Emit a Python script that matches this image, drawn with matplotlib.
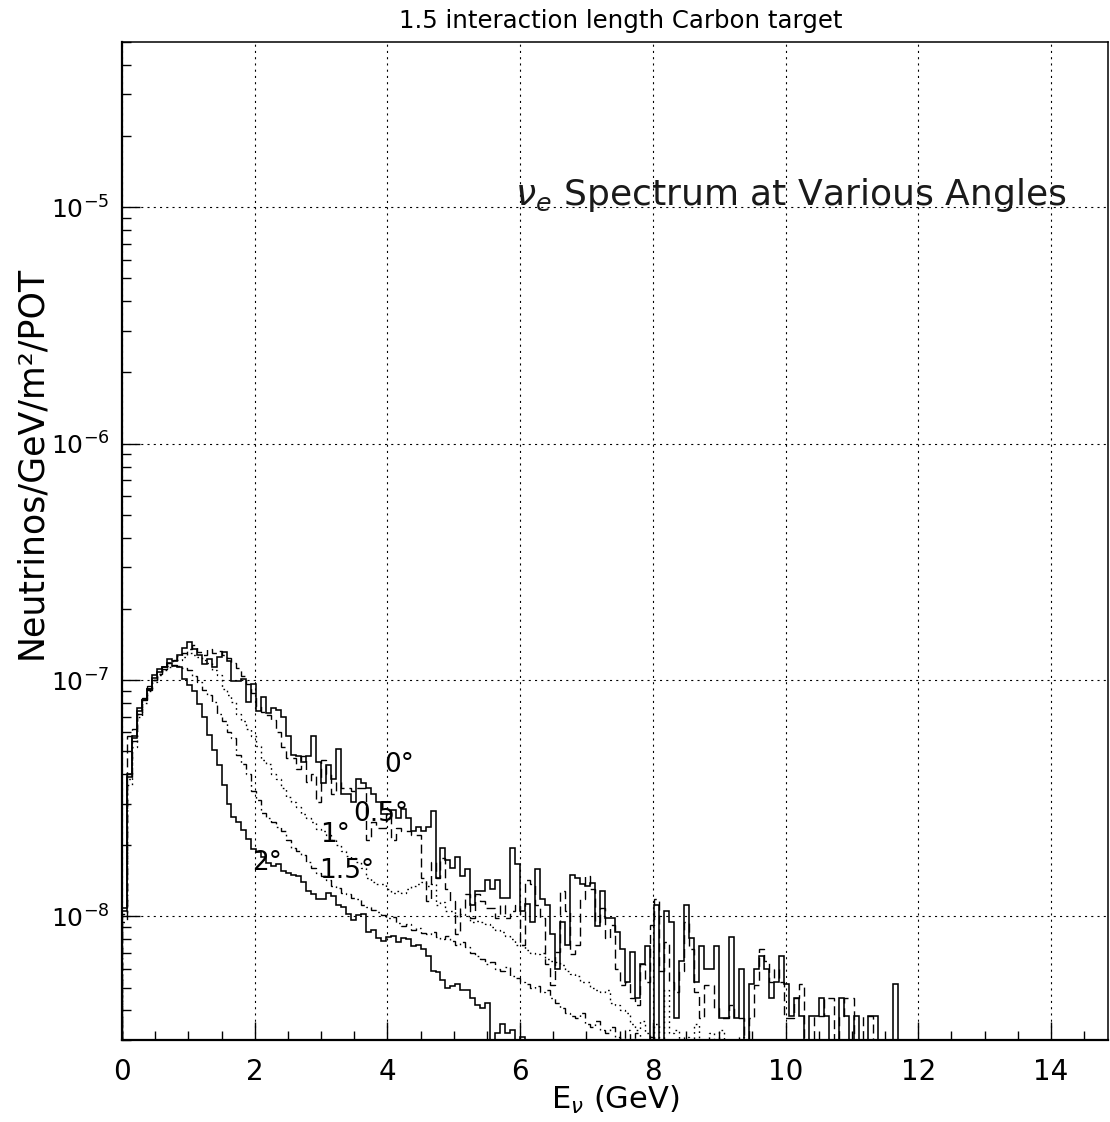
import numpy as np
import matplotlib
matplotlib.use('Agg')
import matplotlib.pyplot as plt
from matplotlib.ticker import MultipleLocator, LogLocator, FuncFormatter, NullFormatter

plt.rcParams['lines.scale_dashes'] = False
plt.rcParams['font.family'] = ['DejaVu Sans']

# ---------------- data (units of 1e-9 neutrinos/GeV/m^2/POT), bins of 0.075 GeV from 0 ----------------
BIN_W = 0.075

flux_0deg = [
    10.8, 39, 57.7, 75.8, 82.7, 92, 105.5, 110.8, 113, 123,
    120, 128, 136, 145.5, 135, 128, 117, 123, 114, 125.6,
    132, 120, 99, 99, 100.5, 81, 96.6, 73.6, 85, 72.2,
    75.8, 75, 70, 57.7, 48.4, 47.5, 45.2, 47.5, 57.7, 45.2,
    36.5, 43.9, 38.3, 51.3, 32.8, 32.8, 30.6, 38.3, 36.5, 34.8,
    33.1, 30.6, 27, 27, 28.3, 26, 28.6, 26, 22.9, 24,
    22.9, 24, 27.8, 14.5, 19.4, 17.4, 16, 17.9, 14.8, 15.8,
    11.2, 12.8, 12.8, 14.3, 13, 14.3, 12, 12, 19.4, 16.6,
    10.5, 11.3, 9.5, 15.8, 11.9, 11.2, 8.4, 6.0, 9.5, 7.6,
    15, 14.5, 13.7, 13.4, 13.8, 9.1, 12.8, 9.8, 9.8, 8.6,
    7.3, 5.3, 7.1, 4.5, 6.3, 7.5, 0, 11.2, 0, 10.5,
    9.5, 3.7, 6.45, 11.2, 8.1, 5.3, 7.5, 6, 6, 7.5,
    3.7, 3.7, 8.2, 3.7, 6, 0, 5.2, 6, 6.8, 6,
    4.5, 5.3, 6.8, 5.2, 3.8, 4.5, 3.8, 0, 3.8, 3.8,
    4.5, 3.8, 0, 0, 4.5, 3.8, 0, 3.8, 0, 0,
    3.8, 3.8, 0, 0, 0, 5.2, 0,
]

flux_05deg = [
    9.5, 58, 62, 72, 84, 94, 100, 106, 112, 118,
    122, 126, 130, 135, 140, 132, 128, 135, 130, 133,
    128, 124, 118, 112, 104, 96, 88, 78, 73, 71,
    68, 60, 52, 47, 46.6, 42, 47.5, 37, 40, 30.6,
    46, 40, 33, 37, 35, 35, 34, 35, 35, 21,
    25, 23.6, 23.6, 27, 21, 23.6, 23, 23, 22, 22,
    14.5, 11.6, 17, 14.5, 17.6, 13, 11.6, 8.4, 10.8, 12.4,
    9.8, 12.4, 11.6, 10.8, 10.8, 9.8, 11.2, 9.8, 10.5, 11.2,
    7.6, 14.3, 13.7, 11.2, 9.8, 6.3, 5.15, 7.1, 12.8, 10.5,
    6.9, 7.6, 11.9, 14.8, 13.1, 9.5, 10.8, 8.1, 9.2, 6.0,
    5.15, 5.3, 4.5, 4.2, 6.3, 5.3, 9.2, 11.9, 5.85, 7.8,
    5.3, 4.8, 5.85, 9.5, 7.3, 4.8, 3.7, 5.15, 5.15, 4.1,
    3.7, 3.7, 4.2, 3.7, 3.7, 0, 3.7, 5.15, 7.3, 6.45,
    5.3, 6.0, 5.3, 3.7, 3.7, 4.5, 5.2, 0, 0, 3.8,
    3.8, 4.5, 4.5, 0, 3.8, 4.5, 4.5, 0, 0, 3.8,
    3.8, 0,
]

flux_1deg = [
    10, 36, 52, 70, 80, 90, 98, 105, 110, 115,
    120, 122, 125, 130, 128, 125, 122, 118, 110, 105,
    92, 86, 81, 72, 67, 62, 57.7, 52.4, 46, 44,
    40, 38, 35, 32, 30.6, 29, 27, 26, 25, 23.5,
    22.9, 22, 21, 20, 19, 18, 17.6, 17, 16, 14.5,
    14, 13.7, 13.7, 13, 12.5, 12.8, 12.5, 13, 13.5, 13.7,
    14, 13.5, 13.7, 11.2, 11.5, 10.5, 10.5, 10, 10.2, 10,
    9.5, 9.6, 9.5, 9.3, 9.0, 8.8, 8.6, 8.3, 8.0, 7.6,
    7.6, 7.2, 7.0, 6.9, 7.0, 6.6, 6.5, 6.4, 6.2, 5.9,
    5.7, 5.6, 5.3, 5.3, 5.0, 4.9, 4.8, 4.9, 4.3, 4.2,
    4.0, 3.9, 3.5, 3.3, 3.6, 3.2, 3.0, 3.5, 0, 4.9,
    3.2, 3.3, 0, 3.1, 0, 3.5, 0, 0, 3.2, 0,
    3.3, 0, 0, 0, 3.1, 0,
]

flux_15deg = [
    10.2, 38, 55, 72, 82, 91, 100, 106, 111, 114,
    116, 115, 112, 110, 104, 98, 91, 86, 81, 72,
    67, 60, 56.6, 48, 44, 40, 34, 31, 27.5, 26,
    25, 24, 22.9, 21, 19.4, 19, 18.2, 17, 16, 15.2,
    14.8, 14.2, 13.5, 13.2, 12.6, 12.4, 12.0, 11.8, 11.2, 11.0,
    10.6, 10.4, 10.1, 9.8, 9.9, 9.4, 9.1, 9.3, 8.8, 8.9,
    8.5, 8.4, 8.6, 8.2, 8.0, 8.3, 7.9, 7.6, 7.8, 7.4,
    7.0, 6.8, 6.6, 6.3, 6.4, 6.0, 5.9, 6.1, 5.6, 5.5,
    5.3, 5.2, 5.0, 5.1, 4.8, 4.9, 4.5, 4.3, 4.1, 3.9,
    3.8, 3.7, 3.9, 3.5, 3.4, 3.6, 3.3, 3.2, 3.4, 3.1,
    0, 3.3, 0, 3.2, 0, 0, 3.1, 0,
]

flux_2deg = [
    10.5, 40, 57, 74, 82, 92, 102, 108, 114, 118,
    115, 113, 101, 95.5, 89.5, 79, 70, 58.8, 50.8, 43.9,
    36, 30, 26.4, 25.2, 23.3, 21.2, 19.2, 18.8, 17.8, 16.8,
    16.3, 16.6, 15.5, 15.3, 15, 14.8, 14, 12.8, 12.4, 11.9,
    11.9, 12.6, 12.2, 11.2, 11.0, 10.2, 9.7, 10.1, 10.2, 8.6,
    8.8, 8.1, 7.9, 8.2, 8.3, 7.8, 8.1, 8.0, 7.5, 7.6,
    7.3, 6.8, 5.9, 5.8, 5.4, 5.0, 5.1, 5.2, 4.9, 4.9,
    4.5, 4.2, 4.1, 4.3, 0, 3.2, 3.5, 3.2, 3.3, 0,
    3.1, 0,
]

angle_labels = ['0°', '0.5°', '1°', '1.5°', '2°']
label_E = [4.18, 3.90, 3.21, 3.39, 2.19]
label_flux = [4.39e-8, 2.70e-8, 2.22e-8, 1.55e-8, 1.68e-8]

x_ticks = [0, 2, 4, 6, 8, 10, 12, 14]

# ---------------- figure ----------------
W, H = 1110, 1122
fig = plt.figure(figsize=(W / 100, H / 100), dpi=100)
fig.patch.set_facecolor('white')
ax = fig.add_axes([122 / W, 1 - 1040 / H, (1108 - 122) / W, (1040 - 42) / H])

FLOOR = 1e-13
series = [
    (flux_0deg, dict(linestyle='-', lw=1.15)),
    (flux_05deg, dict(linestyle=(0, (6.5, 3.5)), lw=1.0)),
    (flux_1deg, dict(linestyle=(0, (1.2, 2.6)), lw=1.0)),
    (flux_15deg, dict(linestyle=(0, (6.0, 2.5, 1.2, 2.5)), lw=1.0)),
    (flux_2deg, dict(linestyle='-', lw=1.15)),
]
for vals, st in series:
    v = np.asarray(vals, dtype=float) * 1e-9
    v = np.where(v > 0, v, FLOOR)
    edges = np.arange(len(v) + 1) * BIN_W
    ax.stairs(v, edges, baseline=FLOOR, color='black', zorder=3, **st)

ax.set_yscale('log')
ax.set_xlim(0, 14.86)
ax.set_ylim(3e-9, 5e-5)

ax.xaxis.set_major_locator(plt.FixedLocator(x_ticks))
ax.xaxis.set_minor_locator(MultipleLocator(0.5))
ax.yaxis.set_major_locator(LogLocator(base=10, numticks=20))
ax.yaxis.set_minor_locator(LogLocator(base=10, subs=np.arange(2, 10), numticks=50))
ax.yaxis.set_minor_formatter(NullFormatter())
ax.yaxis.set_major_formatter(FuncFormatter(lambda v, p: r'$10^{%d}$' % int(round(np.log10(v)))))

ax.tick_params(which='both', direction='in', top=False, right=False, color='black')
ax.tick_params(which='major', length=13, width=1.0)
ax.tick_params(which='minor', length=6.5, width=1.0)
ax.tick_params(axis='x', which='major', labelsize=20, pad=13)
ax.tick_params(axis='y', which='major', labelsize=18, pad=9)

ax.grid(True, which='major', axis='both', color='black', linestyle=(0, (1.5, 3.0)), lw=0.8)
ax.set_axisbelow(True)

for side in ['left', 'bottom']:
    ax.spines[side].set_linewidth(1.6)
for side in ['top', 'right']:
    ax.spines[side].set_linewidth(1.1)

# angle labels
for t, xe, yf in zip(angle_labels, label_E, label_flux):
    ax.text(xe, yf, t, fontsize=19, ha='center', va='center', zorder=5)

# big annotation
ax.text(0.3986, 0.847, r'$\nu_e$ Spectrum at Various Angles', transform=ax.transAxes,
        fontsize=26, ha='left', va='center', color='#1a1a1a', zorder=5)

# titles
fig.text(621 / W, 1 - 21 / H, '1.5 interaction length Carbon target', fontsize=17.6,
         ha='center', va='center')
fig.text(615 / W, 1 - 1100 / H, r'E$_\nu$ (GeV)', fontsize=22, ha='center', va='center')
fig.text(31 / W, 1 - 462 / H, 'Neutrinos/GeV/m²/POT', fontsize=25, rotation=90,
         ha='center', va='center')

fig.savefig('out.png', dpi=100, facecolor='white')
